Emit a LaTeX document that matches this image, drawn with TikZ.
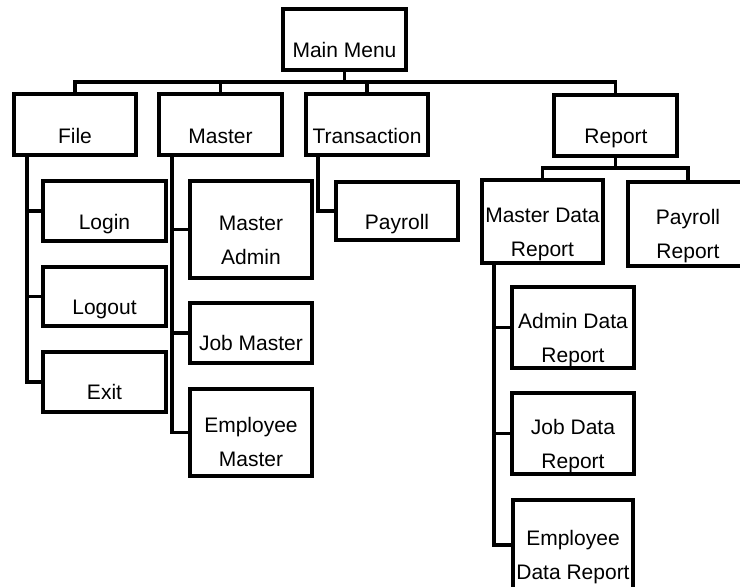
\documentclass[tikz,border=0pt]{standalone}
\usepackage{fontspec}
\setmainfont{Liberation Sans}
\begin{document}
\begin{tikzpicture}[x=1pt,y=-1pt,
  box/.style={draw=black,line width=3.4pt,inner sep=0pt,fill=white},
  lbl/.style={anchor=base,align=center,inner sep=0pt,font=\fontsize{21}{33.5}\selectfont},
  conn/.style={draw=black,line width=3.2pt}]
\clip (0,0) rectangle (740,587);
\fill[white] (0,0) rectangle (740,587);
% boxes
\node[box,minimum width=123pt,minimum height=61pt] (main) at (344.5,39.5) {};
\node[box,minimum width=122pt,minimum height=61pt] (file) at (75,124.5) {};
\node[box,minimum width=123pt,minimum height=61pt] (master) at (220.5,124.5) {};
\node[box,minimum width=122pt,minimum height=61pt] (trans) at (367,124.5) {};
\node[box,minimum width=123pt,minimum height=61pt] (report) at (615.5,125.5) {};
\node[box,minimum width=121pt,minimum height=83pt] (mdr) at (542.5,221.5) {};
\node[box,minimum width=120pt,minimum height=84pt] (pr) at (688,224) {};
\node[box,minimum width=122pt,minimum height=58pt] (payroll) at (397,211) {};
\node[box,minimum width=123pt,minimum height=60pt] (login) at (104.5,211) {};
\node[box,minimum width=123pt,minimum height=59pt] (logout) at (104.5,296.5) {};
\node[box,minimum width=123pt,minimum height=60pt] (exit) at (104.5,382) {};
\node[box,minimum width=122pt,minimum height=97pt] (madmin) at (251,229.5) {};
\node[box,minimum width=122pt,minimum height=60pt] (jobm) at (251,333) {};
\node[box,minimum width=122pt,minimum height=87pt] (empm) at (251,432.5) {};
\node[box,minimum width=122pt,minimum height=81pt] (adr) at (573,327.5) {};
\node[box,minimum width=122pt,minimum height=81pt] (jdr) at (573,433.5) {};
\node[box,minimum width=120pt,minimum height=90pt] (edr) at (573,545) {};
% labels (anchor = baseline of the last line)
\node[lbl] (tmain) at (344.5,57) {Main Menu};
\node[lbl] (tfile) at (75,143) {File};
\node[lbl] (tmaster) at (220.5,143) {Master};
\node[lbl] (ttrans) at (367,143) {Transaction};
\node[lbl] (treport) at (616,143) {Report};
\node[lbl] (tmdr) at (542.5,256) {Master Data\\Report};
\node[lbl] (tpr) at (688,258) {Payroll\\Report};
\node[lbl] (tpayroll) at (397,229) {Payroll};
\node[lbl] (tlogin) at (104.5,229) {Login};
\node[lbl] (tlogout) at (104.5,314) {Logout};
\node[lbl] (texit) at (104.5,399) {Exit};
\node[lbl] (tmadmin) at (251,264) {Master\\Admin};
\node[lbl] (tjobm) at (251,350) {Job Master};
\node[lbl] (tempm) at (251,466) {Employee\\Master};
\node[lbl] (tadr) at (573,362) {Admin Data\\Report};
\node[lbl] (tjdr) at (573,468) {Job Data\\Report};
\node[lbl] (tedr) at (573,579) {Employee\\Data Report};
% bus coordinates
\coordinate (bus) at (0,82);
\coordinate (bus2) at (0,168);
\coordinate (fs) at (27,155);
\coordinate (ms) at (172,155);
\coordinate (ts) at (318,155);
\coordinate (ds) at (494,263);
% connectors
\draw[conn] (main.south) -- (main.south |- bus);
\draw[conn] (file.north) -- (file.north |- bus) -- (report.north |- bus) -- (report.north);
\draw[conn] (master.north) -- (master.north |- bus);
\draw[conn] (trans.north) -- (trans.north |- bus);
\draw[conn] (report.south) -- (report.south |- bus2);
\draw[conn] (mdr.north) -- (mdr.north |- bus2) -- (pr.north |- bus2) -- (pr.north);
\draw[conn] (fs) |- (exit.west);
\draw[conn] (fs |- login.west) -- (login.west);
\draw[conn] (fs |- logout.west) -- (logout.west);
\draw[conn] (ms) |- (empm.west);
\draw[conn] (ms |- madmin.west) -- (madmin.west);
\draw[conn] (ms |- jobm.west) -- (jobm.west);
\draw[conn] (ts) |- (payroll.west);
\draw[conn] (ds) |- (edr.west);
\draw[conn] (ds |- adr.west) -- (adr.west);
\draw[conn] (ds |- jdr.west) -- (jdr.west);
\end{tikzpicture}
\end{document}
